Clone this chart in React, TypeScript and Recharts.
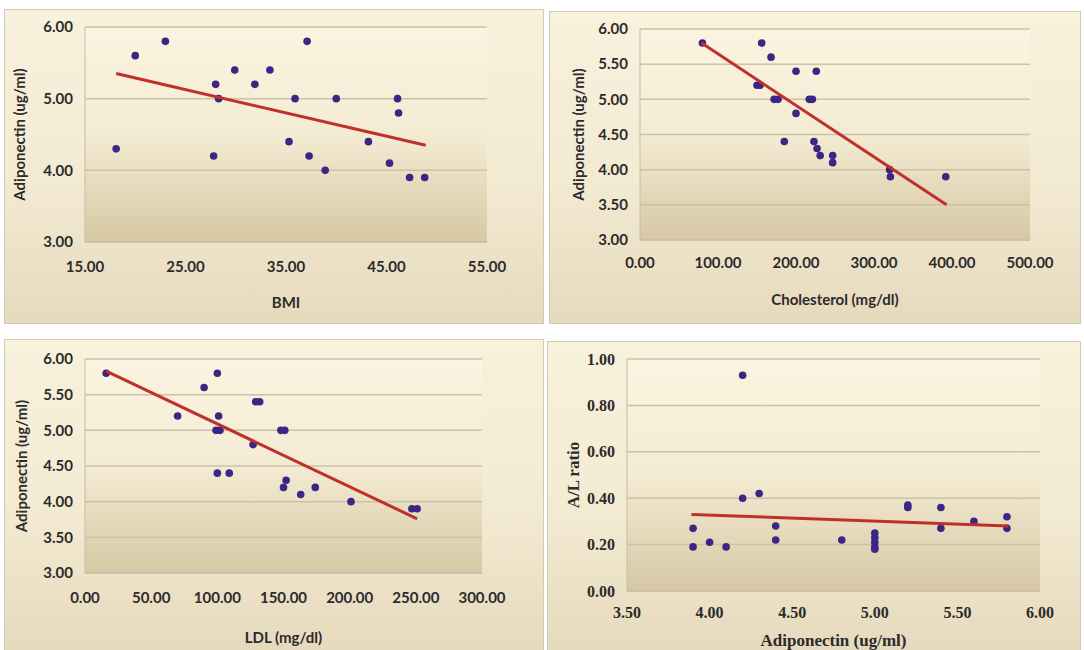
import React from 'react'
import { ScatterChart, Scatter, XAxis, YAxis, CartesianGrid } from 'recharts'

// BMI vs adiponectin
const bmiX = [18.1, 20.0, 23.0, 27.8, 28.0, 28.3, 29.9, 31.9, 33.4, 35.3, 35.9, 37.1, 37.3, 38.9, 40.0, 43.2, 45.3, 46.1, 46.2, 47.3, 48.8]
const bmiY = [4.3, 5.6, 5.8, 4.2, 5.2, 5.0, 5.4, 5.2, 5.4, 4.4, 5.0, 5.8, 4.2, 4.0, 5.0, 4.4, 4.1, 5.0, 4.8, 3.9, 3.9]
const bmiTrendX = [18.1, 48.9]
const bmiTrendY = [5.35, 4.35]

// cholesterol vs adiponectin
const cholX = [80, 156, 168, 150, 154, 172, 177, 200, 226, 200, 217, 221, 185, 223, 227, 231, 247, 247, 320, 321, 392]
const cholY = [5.8, 5.8, 5.6, 5.2, 5.2, 5.0, 5.0, 5.4, 5.4, 4.8, 5.0, 5.0, 4.4, 4.4, 4.3, 4.2, 4.2, 4.1, 4.0, 3.9, 3.9]
const cholTrendX = [79, 393]
const cholTrendY = [5.8, 3.5]

// LDL vs adiponectin
const ldlX = [16, 70, 90, 100, 101, 99, 102, 100, 109, 127, 129, 132, 148, 151, 150, 152, 163, 174, 201, 247, 251]
const ldlY = [5.8, 5.2, 5.6, 5.8, 5.2, 5.0, 5.0, 4.4, 4.4, 4.8, 5.4, 5.4, 5.0, 5.0, 4.2, 4.3, 4.1, 4.2, 4.0, 3.9, 3.9]
const ldlTrendX = [16, 251]
const ldlTrendY = [5.83, 3.76]

// adiponectin vs A/L ratio
const alX = [4.2, 4.2, 4.3, 3.9, 3.9, 4.0, 4.1, 4.4, 4.4, 4.8, 5.0, 5.0, 5.0, 5.0, 5.0, 5.2, 5.2, 5.4, 5.4, 5.6, 5.8, 5.8]
const alY = [0.93, 0.40, 0.42, 0.27, 0.19, 0.21, 0.19, 0.28, 0.22, 0.22, 0.25, 0.23, 0.21, 0.19, 0.18, 0.36, 0.37, 0.36, 0.27, 0.30, 0.32, 0.27]
const alTrendX = [3.89, 5.81]
const alTrendY = [0.33, 0.28]

const adipoTicks = [3, 3.5, 4, 4.5, 5, 5.5, 6]
const bmiYTicks = [3, 4, 5, 6]
const bmiXTicks = [15, 25, 35, 45, 55]
const cholXTicks = [0, 100, 200, 300, 400, 500]
const ldlXTicks = [0, 50, 100, 150, 200, 250, 300]
const alXTicks = [3.5, 4, 4.5, 5, 5.5, 6]
const alYTicks = [0, 0.2, 0.4, 0.6, 0.8, 1]

const pts = (xs: number[], ys: number[]) => xs.map((x, i) => ({ x, y: ys[i] }))

const SANS = 'Lato, "Open Sans", sans-serif'
const SERIF = '"Liberation Serif", "DejaVu Serif", serif'

type Box = { left: number; top: number; w: number; h: number }
type Plot = { l: number; r: number; t: number; b: number }

function Panel(props: {
  box: Box
  plot: Plot
  xDomain: number[]
  xTicks: number[]
  yDomain: number[]
  yTicks: number[]
  data: { x: number; y: number }[]
  trend: { x: number; y: number }[]
  xTitle: string
  yTitle: string
  font: string
  tickSize: number
  titleSize: number
  tickGap: number
  titleGap: number
  yTitleX: number
}) {
  const { box, plot, font } = props
  const tickStyle = { fill: '#2b2b2b', fontSize: props.tickSize, fontWeight: 700, fontFamily: font }
  const titleStyle = { fill: '#2b2b2b', fontSize: props.titleSize, fontWeight: 700, fontFamily: font, textAnchor: 'middle' as const }
  return (
    <div
      style={{
        position: 'absolute',
        left: box.left,
        top: box.top,
        width: box.w,
        height: box.h,
        background: 'linear-gradient(#f8f1dc, #f3ead2 55%, #e6dabd)',
        boxShadow: '0 0 0 1px #d2cab6',
      }}
    >
      <div
        style={{
          position: 'absolute',
          left: plot.l - box.left,
          top: plot.t - box.top,
          width: plot.r - plot.l,
          height: plot.b - plot.t,
          background: 'linear-gradient(#fbf4e0, #f4ebd3 50%, #d6c8a4)',
        }}
      />
      <div style={{ position: 'absolute', left: 0, top: 0 }}>
        <ScatterChart
          width={box.w}
          height={box.h}
          margin={{ top: plot.t - box.top, right: box.left + box.w - plot.r, left: 0, bottom: 0 }}
        >
          <CartesianGrid vertical={false} stroke="#cbc2a8" strokeWidth={1.5} />
          <XAxis
            type="number"
            dataKey="x"
            domain={props.xDomain}
            ticks={props.xTicks}
            interval={0}
            height={box.top + box.h - plot.b}
            tickLine={false}
            tickSize={0}
            tickMargin={props.tickGap}
            axisLine={{ stroke: '#c4bca6' }}
            tick={tickStyle}
            tickFormatter={(v: number) => v.toFixed(2)}
            label={{ value: props.xTitle, position: 'insideTop', offset: props.titleGap, style: titleStyle }}
          />
          <YAxis
            type="number"
            dataKey="y"
            domain={props.yDomain}
            ticks={props.yTicks}
            interval={0}
            width={plot.l - box.left}
            tickLine={false}
            tickSize={0}
            tickMargin={12}
            axisLine={{ stroke: '#c4bca6' }}
            tick={tickStyle}
            tickFormatter={(v: number) => v.toFixed(2)}
            label={{ value: props.yTitle, angle: -90, position: 'insideLeft', offset: props.yTitleX, style: titleStyle }}
          />
          <Scatter
            data={props.data}
            isAnimationActive={false}
            shape={(p: any) => <circle cx={p.cx} cy={p.cy} r={3.8} fill="#3b2585" />}
          />
          <Scatter
            data={props.trend}
            isAnimationActive={false}
            line={{ stroke: '#c0302a', strokeWidth: 3 }}
            shape={() => <g />}
          />
        </ScatterChart>
      </div>
    </div>
  )
}

export default function App() {
  return (
    <div style={{ position: 'absolute', left: 0, top: 0, width: 1084, height: 650, background: '#fff', overflow: 'hidden' }}>
      <Panel
        box={{ left: 5, top: 10, w: 538, h: 313 }}
        plot={{ l: 85, r: 487, t: 27, b: 242 }}
        xDomain={[15, 55]}
        xTicks={bmiXTicks}
        yDomain={[3, 6]}
        yTicks={bmiYTicks}
        data={pts(bmiX, bmiY)}
        trend={pts(bmiTrendX, bmiTrendY)}
        xTitle="BMI"
        yTitle="Adiponectin (ug/ml)"
        font={SANS}
        tickSize={15}
        titleSize={15}
        tickGap={19}
        titleGap={55}
        yTitleX={15}
      />
      <Panel
        box={{ left: 550, top: 12, w: 530, h: 311 }}
        plot={{ l: 640, r: 1030, t: 29, b: 240 }}
        xDomain={[0, 500]}
        xTicks={cholXTicks}
        yDomain={[3, 6]}
        yTicks={adipoTicks}
        data={pts(cholX, cholY)}
        trend={pts(cholTrendX, cholTrendY)}
        xTitle="Cholesterol (mg/dl)"
        yTitle="Adiponectin (ug/ml)"
        font={SANS}
        tickSize={15}
        titleSize={15}
        tickGap={17}
        titleGap={54}
        yTitleX={29}
      />
      <Panel
        box={{ left: 5, top: 340, w: 538, h: 310 }}
        plot={{ l: 85, r: 482, t: 359, b: 573 }}
        xDomain={[0, 300]}
        xTicks={ldlXTicks}
        yDomain={[3, 6]}
        yTicks={adipoTicks}
        data={pts(ldlX, ldlY)}
        trend={pts(ldlTrendX, ldlTrendY)}
        xTitle="LDL (mg/dl)"
        yTitle="Adiponectin (ug/ml)"
        font={SANS}
        tickSize={15}
        titleSize={15}
        tickGap={19}
        titleGap={59}
        yTitleX={17}
      />
      <Panel
        box={{ left: 548, top: 342, w: 532, h: 308 }}
        plot={{ l: 627, r: 1040, t: 359, b: 591 }}
        xDomain={[3.5, 6]}
        xTicks={alXTicks}
        yDomain={[0, 1]}
        yTicks={alYTicks}
        data={pts(alX, alY)}
        trend={pts(alTrendX, alTrendY)}
        xTitle="Adiponectin (ug/ml)"
        yTitle="A/L ratio"
        font={SERIF}
        tickSize={16}
        titleSize={17}
        tickGap={16}
        titleGap={43}
        yTitleX={25}
      />
    </div>
  )
}
